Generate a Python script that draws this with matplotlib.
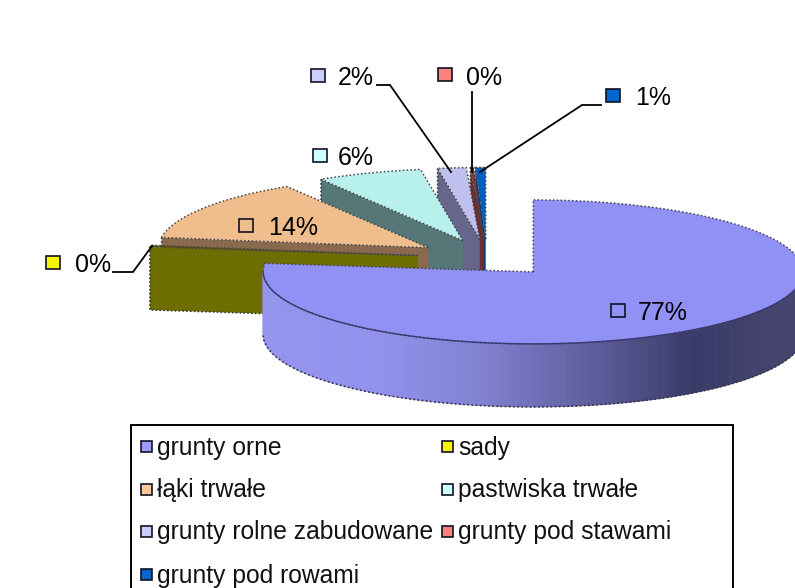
import numpy as np
import matplotlib
matplotlib.use('Agg')
import matplotlib.pyplot as plt
from matplotlib.colors import LinearSegmentedColormap
from matplotlib.patches import Polygon, Rectangle

plt.rcParams['font.family'] = ['Liberation Sans', 'DejaVu Sans']

categories = ['grunty orne', 'sady', 'łąki trwałe', 'pastwiska trwałe',
              'grunty rolne zabudowane', 'grunty pod stawami', 'grunty pod rowami']
values = [76.9, 0.4, 13.9, 6.3, 1.7, 0.2, 0.6]
percent_labels = ['77%', '0%', '14%', '6%', '2%', '0%', '1%']

key_colors = ['#9999FF', '#F5F500', '#FFC896', '#CCFFFF', '#CCCCFF', '#FF8080', '#0066CC']
top_colors = ['#9090F5', '#5A5200', '#F0BE8C', '#B8F0EC', '#C0C0EE', '#7A3A3A', '#0060C0']
face_colors = ['#7070C0', '#6E6E00', '#8A6A4E', '#557777', '#66668C', '#6B2E2E', '#003A78']
wall_colors = ['#9595F0', '#9292EE', '#8282D2', '#5F5F9E', '#3A3A68', '#46466F']

# projection of the tilted pie, pixels
cx, cy = 487, 258
rx, ry = 270, 72
depth = 63
explode = 0.258
dots = (0, (1, 1.5))


def point(angle, ox, oy, r=1.0):
    a = np.radians(angle)
    return ox + r * rx * np.sin(a), oy - r * ry * np.cos(a)


def draw_slice(ax, start, end, top_color, face_color, z):
    mid = (start + end) / 2
    ox, oy = point(mid, cx, cy, explode)
    arc = np.linspace(start, end, max(int(end - start) * 2, 2))
    xs, ys = point(arc, ox, oy)

    # cut face on the start side of the slice
    x0, y0 = xs[0], ys[0]
    if start > 180:
        ax.add_patch(Polygon([(ox, oy), (x0, y0), (x0, y0 + depth), (ox, oy + depth)],
                             fc=face_color, ec='none', zorder=z))
        ax.plot([x0, x0, ox], [y0, y0 + depth, oy + depth], color='#333333', lw=1.1, ls=dots, zorder=z)

    # rim, only the part on the front of the pie
    front = arc[(arc > 90) & (arc < 270)]
    if len(front):
        wall = LinearSegmentedColormap.from_list('wall', wall_colors)
        fx, fy = point(front, ox, oy)
        for i in range(len(front) - 1):
            c = wall((fx[i] - fx.min()) / (fx.max() - fx.min()))
            ax.fill([fx[i], fx[i + 1], fx[i + 1], fx[i]],
                    [fy[i], fy[i + 1], fy[i + 1] + depth, fy[i] + depth],
                    color=c, lw=0.6, zorder=z)
        ax.plot(fx, fy + depth, color='#33333F', lw=1.2, ls=dots, zorder=z + 0.1)

    px = np.concatenate([[ox], xs])
    py = np.concatenate([[oy], ys])
    ax.add_patch(Polygon(np.column_stack([px, py]), fc=top_color, ec='none', zorder=z + 0.2))
    ax.plot(np.append(px, ox), np.append(py, oy), color='#44444E', lw=1.1, ls=dots, zorder=z + 0.3)
    if len(front):
        ax.plot(fx, fy, color='#3A3A70', lw=1.0, zorder=z + 0.3)


fig = plt.figure(figsize=(7.95, 5.88), dpi=100)
ax = fig.add_axes([0, 0, 1, 1])
ax.set_xlim(0, 795)
ax.set_ylim(588, 0)
ax.axis('off')

edges = np.concatenate([[0], np.cumsum(values)]) * 360 / sum(values)

# back slices first, the big one goes over them
for i in range(len(values) - 1, -1, -1):
    draw_slice(ax, edges[i], edges[i + 1], top_colors[i], face_colors[i], z=2 + (len(values) - i))

# leader lines
leader_x = [[113, 133, 152], [377, 390, 451], [472, 472], [601, 582, 480]]
leader_y = [[272, 272, 246], [85, 85, 172], [92, 172], [105, 105, 172]]
for lx, ly in zip(leader_x, leader_y):
    ax.plot(lx, ly, color='black', lw=1.3, solid_joinstyle='miter', zorder=15)

# data labels: key square + percent text
key_x = [618, 53, 246, 320, 318, 445, 613]
key_y = [310, 262, 225, 155, 75, 74, 95]
text_x = [638, 75, 268, 338, 338, 466, 635]
text_y = [313, 265, 228, 158, 78, 78, 98]
for i, lab in enumerate(percent_labels):
    ax.add_patch(Rectangle((key_x[i] - 7, key_y[i] - 6.5), 14, 13,
                           fc=key_colors[i] if i not in (0, 2) else 'none',
                           ec='#111122', lw=1.2, zorder=16))
    ax.text(text_x[i], text_y[i], lab, fontsize=18, color='black', va='center', ha='left', zorder=16)

# legend box runs off the bottom of the picture
ax.add_patch(Rectangle((131, 424.5), 602, 190, fc='white', ec='black', lw=1.4, zorder=17))
legend_x = [146, 447, 146, 447, 146, 447, 146]
legend_y = [446, 446, 489, 489, 531, 531, 574]
for i, name in enumerate(categories):
    ax.add_patch(Rectangle((legend_x[i] - 5.5, legend_y[i] - 5.5), 11, 11,
                           fc=key_colors[i], ec='#111122', lw=1.2, zorder=18))
    ax.text(legend_x[i] + 11, legend_y[i] + 1.5, name, fontsize=17.7, color='#111111',
            va='center', ha='left', zorder=18)

fig.savefig('out.png', dpi=100)
